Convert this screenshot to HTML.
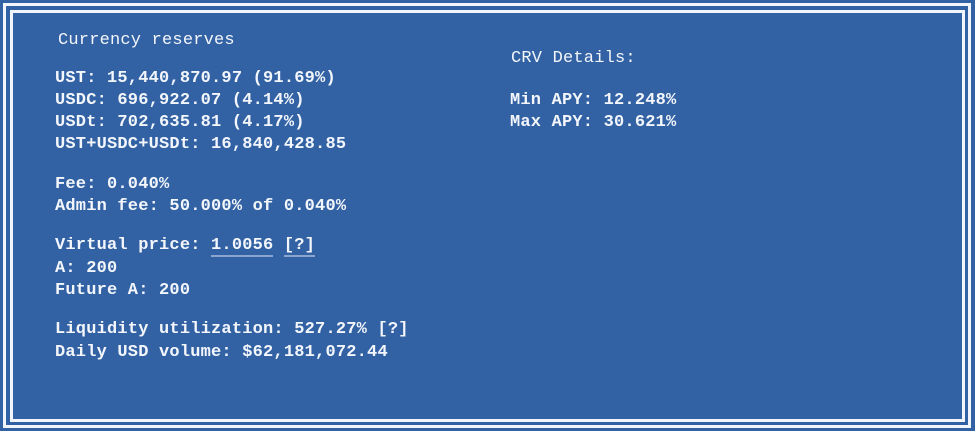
<!DOCTYPE html>
<html><head><meta charset="utf-8"><style>
html,body{margin:0;padding:0}
body{width:975px;height:431px;background:#3362a4;position:relative;overflow:hidden;font-family:"Liberation Mono",monospace;}
.b{position:absolute;border:3px solid #f2f5fa;box-sizing:border-box}
.t{position:absolute;color:#f3f6fb;font-size:17px;font-weight:bold;letter-spacing:0.2px;line-height:20px;white-space:pre;margin-top:-10px}
.h{font-weight:normal}
.u{border-bottom:2px solid #8aa6cf}
</style></head><body>
<div class="b" style="left:3px;top:3px;width:968px;height:425px"></div>
<div class="b" style="left:10px;top:10px;width:955px;height:412px"></div>
<div class="t h" style="left:58px;top:41px">Currency reserves</div>
<div class="t" style="left:55px;top:79px">UST: 15,440,870.97 (91.69%)</div>
<div class="t" style="left:55px;top:101px">USDC: 696,922.07 (4.14%)</div>
<div class="t" style="left:55px;top:123px">USDt: 702,635.81 (4.17%)</div>
<div class="t" style="left:55px;top:145px">UST+USDC+USDt: 16,840,428.85</div>
<div class="t" style="left:55px;top:185px">Fee: 0.040%</div>
<div class="t" style="left:55px;top:207px">Admin fee: 50.000% of 0.040%</div>
<div class="t" style="left:55px;top:246px">Virtual price: <span class="u">1.0056</span> <span class="u">[?]</span></div>
<div class="t" style="left:55px;top:269px">A: 200</div>
<div class="t" style="left:55px;top:291px">Future A: 200</div>
<div class="t" style="left:55px;top:330px">Liquidity utilization: 527.27% <span>[?]</span></div>
<div class="t" style="left:55px;top:353px">Daily USD volume: $62,181,072.44</div>
<div class="t h" style="left:511px;top:59px">CRV Details:</div>
<div class="t" style="left:510px;top:101px">Min APY: 12.248%</div>
<div class="t" style="left:510px;top:123px">Max APY: 30.621%</div>
</body></html>
